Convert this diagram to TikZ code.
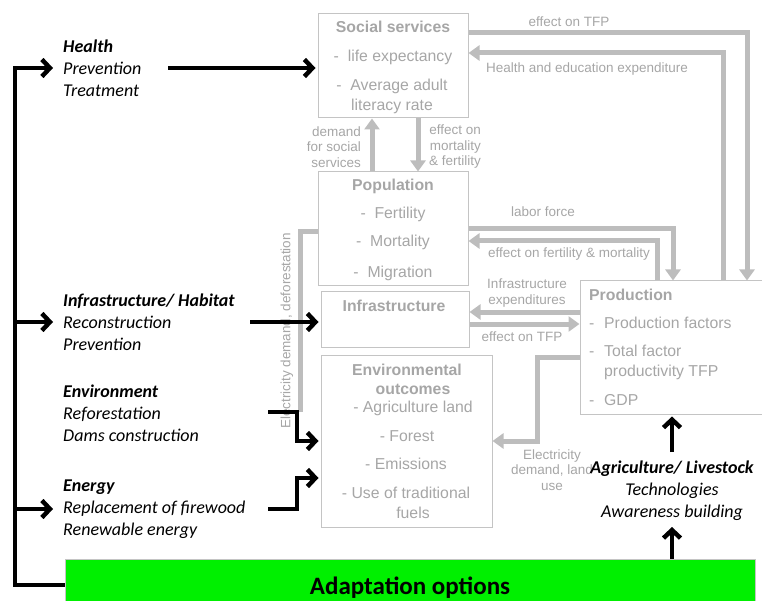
\documentclass[tikz,border=0pt]{standalone}
\usepackage{fontspec}
\setmainfont{Liberation Sans}
\newfontfamily\calfont{Carlito}
\usetikzlibrary{arrows.meta}

\definecolor{txtgray}{HTML}{A6A6A6}
\definecolor{linegray}{HTML}{BDBDBD}
\definecolor{boxgray}{HTML}{C4C4C4}
\definecolor{adgreen}{HTML}{00F000}

\tikzset{
  box/.style={draw=boxgray, line width=1pt, inner sep=0pt},
  gt/.style={text=txtgray, inner sep=0pt, anchor=base, font=\fontsize{15.8}{18}\selectfont},
  gtb/.style={gt, font=\bfseries\fontsize{15.8}{18}\selectfont},
  gtl/.style={gt, anchor=base west},
  lbl/.style={text=txtgray, inner sep=0pt, font=\fontsize{13.5}{15.5}\selectfont},
  gl/.style={draw=linegray, line width=5pt},
  gla/.style={gl, -{Triangle[length=11pt,width=15pt]}},
  bl/.style={draw=black, line width=4.5pt},
  bla/.style={bl, -{Straight Barb[length=8pt,width=17pt]}},
  opt/.style={inner sep=0pt, anchor=west, align=left, font=\calfont\itshape\fontsize{18}{22}\selectfont},
}

\begin{document}
\begin{tikzpicture}[x=1pt,y=-1pt]
\useasboundingbox (0,0) rectangle (762,601);

% ---------- boxes ----------
\node[box, minimum width=150pt, minimum height=104pt] (soc)  at (393,66) {};
\node[box, minimum width=150pt, minimum height=114pt] (pop)  at (393,229) {};
\node[box, minimum width=148pt, minimum height=55pt]  (inf)  at (395,319.5) {};
\node[box, minimum width=171pt, minimum height=172pt] (env)  at (406.5,441) {};
\node[box, minimum width=195pt, minimum height=133pt] (prod) at (677.5,347.5) {};
\node[box, fill=adgreen, minimum width=690pt, minimum height=46pt] (green) at (410,582) {};

% ---------- box contents ----------
\node[gtb] (socT) at (393,33)  {Social services};
\node[gt]  (soc1) at (393,62)  {-\ \ life expectancy};
\node[gt]  (soc2) at (392,91)  {-\ \ Average adult};
\node[gt]  (soc3) at (392,111) {literacy rate};

\node[gtb] (popT) at (393,191) {Population};
\node[gt]  (pop1) at (393,219) {-\ \ Fertility};
\node[gt]  (pop2) at (393,247) {-\ \ Mortality};
\node[gt]  (pop3) at (393,277) {-\ \ Migration};

\node[gtb] (infT) at (394,311) {Infrastructure};

\node[gtb] (envT1) at (407,375) {Environmental};
\node[gtb] (envT2) at (413,394) {outcomes};
\node[gt]  (env1)  at (413,412) {- Agriculture land};
\node[gt]  (env2)  at (407,441) {- Forest};
\node[gt]  (env3)  at (406,469) {- Emissions};
\node[gt]  (env4)  at (406,498) {- Use of traditional};
\node[gt]  (env5)  at (413,518) {fuels};

\node[gtb, anchor=base west] (prodT) at (589,301) {Production};
\node[gtl] (prod1) at (589,328) {\makebox[15pt][l]{-}Production factors};
\node[gtl] (prod2) at (589,356) {\makebox[15pt][l]{-}Total factor};
\node[gtl] (prod3) at (604,376) {productivity TFP};
\node[gtl] (prod4) at (589,405) {\makebox[15pt][l]{-}GDP};

% ---------- grey flows ----------
\draw[gla] (soc.east |- 0,33) -- (747,33) -- (747,0 |- prod.north);
\draw[gla] (723,0 |- prod.north) -- (723,53) -- (soc.east |- 0,53);
\draw[gla] (372,0 |- pop.north) -- (372,0 |- soc.south);
\draw[gla] (418,0 |- soc.south) -- (418,0 |- pop.north);
\draw[gla] (pop.east |- 0,229) -- (673,229) -- (673,0 |- prod.north);
\draw[gla] (657,0 |- prod.north) -- (657,241) -- (pop.east |- 0,241);
\draw[gla] (prod.west |- 0,312) -- (inf.east |- 0,312);
\draw[gla] (inf.east |- 0,324) -- (prod.west |- 0,324);
\draw[gla] (prod.west |- 0,357) -- (537,357) -- (537,441) -- (env.east |- 0,441);
\coordinate (defEnd) at (300,412);
\draw[gl] (pop.west |- 0,232) -- (300,232) -- (defEnd);

% ---------- grey labels ----------
\node[lbl] (l1) at (569,22)  {effect on TFP};
\node[lbl] (l2) at (587,69)  {Health and education expenditure};
\node[lbl, align=right, anchor=east] (l3) at (361,147) {demand\\for social\\services};
\node[lbl, align=right, anchor=east] (l4) at (481,147) {effect on\\mortality\\\& fertility};
\node[lbl] (l5) at (543,212) {labor force};
\node[lbl] (l6) at (569,254) {effect on fertility \& mortality};
\node[lbl, align=center] (l7) at (527,293) {Infrastructure\\expenditures};
\node[lbl] (l8) at (522,337) {effect on TFP};
\node[lbl, align=center] (l9) at (552,470) {Electricity\\demand, land\\use};
\node[lbl, rotate=90] (l10) at (287,331) {Electricity demand, deforestation};

% ---------- adaptation options ----------
\node[opt] (health) at (63,68)  {\textbf{Health}\\Prevention\\Treatment};
\node[opt] (habit)  at (63,322) {\textbf{Infrastructure/ Habitat}\\Reconstruction\\Prevention};
\node[opt] (envir)  at (63,413) {\textbf{Environment}\\Reforestation\\Dams construction};
\node[opt] (energy) at (63,509) {\textbf{Energy}\\Replacement of firewood\\Renewable energy};
\node[opt, anchor=center, align=center] (agri) at (672,491) {\textbf{Agriculture/ Livestock}\\Technologies\\Awareness building};
\node[inner sep=0pt, anchor=base, font=\calfont\bfseries\fontsize{25}{28}\selectfont] (adapt) at (410,594) {Adaptation options};

% ---------- black links ----------
\coordinate (sp1) at (15,322);
\coordinate (sp2) at (15,509);
\draw[bla, shorten >=10pt] (green.west |- 0,585) -- (15,585) -- (15,68) -- (health.west |- 0,68);
\draw[bla, shorten >=10pt] (sp1) -- (health.west |- sp1);
\draw[bla, shorten >=10pt] (sp2) -- (health.west |- sp2);

\coordinate (hS) at (168,68);
\coordinate (iS) at (250,322);
\coordinate (eS) at (268,412);
\coordinate (nS) at (268,509);
\coordinate (aS) at (672,452);
\draw[bla, shorten >=2pt] (hS) -- (soc.west |- hS);
\draw[bla, shorten >=2pt] (iS) -- (inf.west |- iS);
\draw[bla, shorten >=2pt] (eS) -- (297,412) -- (297,441) -- (env.west |- 0,441);
\draw[bla, shorten >=2pt] (nS) -- (297,509) -- (297,478) -- (env.west |- 0,478);
\draw[bla, shorten >=2pt] (aS) -- (aS |- prod.south);
\draw[bla, shorten >=2pt] (aS |- green.north) -- (672,525);
\end{tikzpicture}
\end{document}
